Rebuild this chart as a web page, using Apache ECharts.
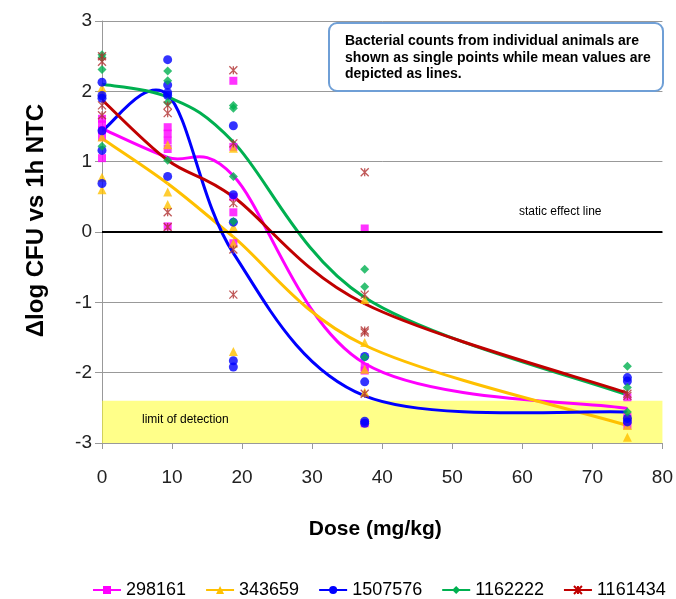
<!DOCTYPE html>
<html>
<head>
<meta charset="utf-8">
<script src="https://cdn.jsdelivr.net/npm/echarts@6/dist/echarts.min.js"></script>
<style>
  html, body { margin: 0; padding: 0; background: #fff; }
  #main { width: 676px; height: 599px; }
</style>
</head>
<body>
<div id="main"></div>
<script>
// 剂量 (mg/kg)
const doses = [0, 9.375, 18.75, 37.5, 75];
const seriesNames = ['298161', '343659', '1507576', '1162222', '1161434'];

// 均值曲线
const mean298161 = [1.47, 1.06, 0.80, -1.87, -2.51];
const mean343659 = [1.33, 0.69, -0.07, -1.61, -2.75];
const mean1507576 = [1.44, 1.95, -0.30, -2.33, -2.56];
const mean1162222 = [2.10, 1.92, 1.28, -0.93, -2.32];
const mean1161434 = [1.88, 1.02, 0.50, -1.02, -2.29];

// 单个动物的数据点，按剂量分组
const pts298161 = [
  [1.61, 1.53, 1.45, 1.35, 1.05],
  [1.49, 1.40, 1.30, 1.18, 0.08],
  [2.15, 1.21, 0.50, 0.28, -0.16],
  [0.05, -1.92, -1.97, -2.72],
  [-2.35, -2.63, -2.75]
];
const pts343659 = [
  [2.05, 1.98, 1.35, 0.78, 0.60],
  [1.24, 0.57, 0.39],
  [1.19, 0.07, -0.16, -1.70],
  [-0.96, -1.57, -1.95, -2.28],
  [-2.60, -2.75, -2.92]
];
const pts1507576 = [
  [2.13, 1.94, 1.90, 1.44, 1.16, 0.69],
  [2.45, 2.09, 1.98, 1.94, 0.79],
  [1.51, 0.53, 0.14, -1.83, -1.92],
  [-1.77, -2.13, -2.69, -2.72],
  [-2.07, -2.12, -2.65, -2.70]
];
const pts1162222 = [
  [2.52, 2.48, 2.31, 1.22],
  [2.29, 2.15, 1.84, 1.02],
  [1.80, 1.76, 0.79, 0.15],
  [-0.53, -0.78, -1.78],
  [-1.91, -2.21, -2.56]
];
const pts1161434 = [
  [2.50, 2.42, 1.80, 1.66],
  [1.80, 1.69, 0.28, 0.07],
  [2.30, 1.26, 0.41, -0.25, -0.89],
  [0.85, -0.89, -1.40, -1.43, -2.30],
  [-2.33, -2.30]
];

const means = [mean298161, mean343659, mean1507576, mean1162222, mean1161434];
const points = [pts298161, pts343659, pts1507576, pts1162222, pts1161434];

const colors = ['#ff00ff', '#ffc000', '#0000ff', '#00b050', '#c00000'];
const symbols = ['rect', 'triangle', 'circle', 'diamond', 'path://M0,0L10,10M10,0L0,10M5,0L5,10'];
const symbolSizes = [8, 9, 9, 9, 8];

const FONT = '"Liberation Sans", Arial, sans-serif';

const chart = echarts.init(document.getElementById('main'));

const series = [];

// 图例用的折线系列（无数据，只提供图标样式）
seriesNames.forEach(function (name, i) {
  const isStar = i === 4;
  series.push({
    name: name,
    type: 'line',
    symbol: symbols[i],
    symbolSize: symbolSizes[i],
    data: [],
    lineStyle: { color: colors[i], width: 3 },
    itemStyle: isStar
      ? { color: colors[i], borderColor: colors[i], borderWidth: 1.5 }
      : { color: colors[i] }
  });
});

// 均值平滑曲线（类似 Excel 的 Catmull-Rom 平滑）
seriesNames.forEach(function (name, i) {
  const meanData = doses.map(function (d, k) { return [d, means[i][k]]; });
  series.push({
    name: name,
    type: 'custom',
    data: meanData.slice(0, -1),
    clip: true,
    z: 3,
    renderItem: function (params, api) {
      const k = params.dataIndex;
      const c = meanData.map(function (p) { return api.coord(p); });
      const n = c.length;
      const p0 = c[Math.max(k - 1, 0)];
      const p1 = c[k];
      const p2 = c[k + 1];
      const p3 = c[Math.min(k + 2, n - 1)];
      return {
        type: 'bezierCurve',
        shape: {
          x1: p1[0], y1: p1[1],
          x2: p2[0], y2: p2[1],
          cpx1: p1[0] + (p2[0] - p0[0]) / 6,
          cpy1: p1[1] + (p2[1] - p0[1]) / 6,
          cpx2: p2[0] - (p3[0] - p1[0]) / 6,
          cpy2: p2[1] - (p3[1] - p1[1]) / 6
        },
        style: { stroke: colors[i], lineWidth: 3, fill: null }
      };
    }
  });
});

// 单个动物散点
seriesNames.forEach(function (name, i) {
  const isStar = i === 4;
  const data = [];
  points[i].forEach(function (vals, k) {
    vals.forEach(function (v) { data.push([doses[k], v]); });
  });
  series.push({
    name: name,
    type: 'scatter',
    symbol: symbols[i],
    symbolSize: symbolSizes[i],
    data: data,
    itemStyle: isStar
      ? { color: 'none', borderColor: '#b03030', borderWidth: 1.3 }
      : { color: colors[i] },
    z: 4
  });
});

// 零线与检测限区域
series.push({
  type: 'line',
  data: [],
  silent: true,
  markLine: {
    symbol: 'none',
    silent: true,
    label: { show: false },
    lineStyle: { color: '#000', width: 2, type: 'solid' },
    data: [{ yAxis: 0 }]
  },
  markArea: {
    silent: true,
    itemStyle: { color: 'rgba(255,255,40,0.55)' },
    data: [[{ xAxis: 0, yAxis: -2.4 }, { xAxis: 80, yAxis: -3 }]]
  },
  z: 2
});

const option = {
  animation: false,
  backgroundColor: '#fff',
  grid: { left: 102, right: 11, top: 21, bottom: 156 },
  legend: {
    data: seriesNames,
    left: 92,
    right: 0,
    top: 581,
    padding: 0,
    itemGap: 19,
    itemWidth: 28,
    itemHeight: 10,
    textStyle: { fontFamily: FONT, fontSize: 18, color: '#000' }
  },
  xAxis: {
    type: 'value',
    min: 0,
    max: 80,
    interval: 10,
    name: 'Dose (mg/kg)',
    nameLocation: 'middle',
    nameGap: 76,
    nameTextStyle: { fontFamily: FONT, fontSize: 21, fontWeight: 'bold', color: '#000', padding: [0, 14, 0, 0] },
    axisLine: { onZero: false, lineStyle: { color: '#999', width: 1 } },
    axisTick: { show: true, length: 6, lineStyle: { color: '#999' } },
    axisLabel: { margin: 25, fontFamily: FONT, fontSize: 19, color: '#222' },
    splitLine: { show: false }
  },
  yAxis: {
    type: 'value',
    min: -3,
    max: 3,
    interval: 1,
    name: 'Δlog CFU vs 1h NTC',
    nameLocation: 'middle',
    nameGap: 54,
    nameTextStyle: { fontFamily: FONT, fontSize: 24, fontWeight: 'bold', color: '#000', padding: [0, 0, 0, 23] },
    axisLine: { show: true, onZero: false, lineStyle: { color: '#999', width: 1 } },
    axisTick: { show: true, length: 7, lineStyle: { color: '#999' } },
    axisLabel: { margin: 10, fontFamily: FONT, fontSize: 19, color: '#222' },
    splitLine: { show: true, lineStyle: { color: '#999', width: 1 } }
  },
  graphic: [
    {
      type: 'rect',
      shape: { x: 329, y: 23, width: 334, height: 68, r: 8 },
      style: { fill: '#fff', stroke: '#6f9fd6', lineWidth: 2 },
      z: 100
    },
    {
      type: 'text',
      left: 345,
      top: 33,
      style: {
        text: 'Bacterial counts from individual animals are\nshown as single points while mean values are\ndepicted as lines.',
        font: 'bold 14px ' + FONT,
        lineHeight: 16.5,
        fill: '#000'
      },
      z: 101
    },
    {
      type: 'text',
      left: 519,
      top: 206,
      style: { text: 'static effect line', font: '12px ' + FONT, fill: '#000' },
      z: 101
    },
    {
      type: 'text',
      left: 142,
      top: 414,
      style: { text: 'limit of detection', font: '12px ' + FONT, fill: '#000' },
      z: 101
    }
  ],
  series: series
};

chart.setOption(option);
</script>
</body>
</html>
